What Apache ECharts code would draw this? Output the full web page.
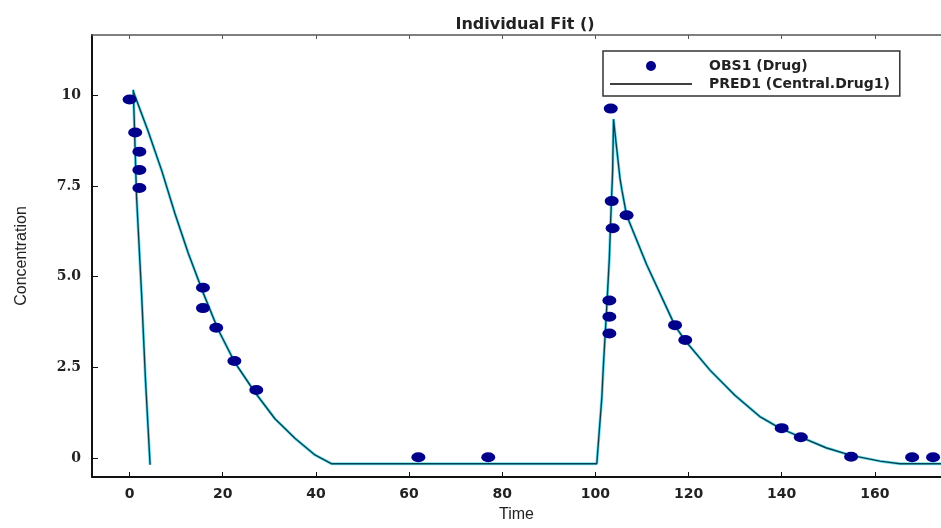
<!DOCTYPE html>
<html>
<head>
<meta charset="utf-8">
<script src="https://cdn.jsdelivr.net/npm/echarts@6/dist/echarts.min.js"></script>
<style>
html, body { margin: 0; padding: 0; background: #fff; }
#main { width: 941px; height: 528px; }
</style>
</head>
<body>
<div id="main"></div>
<script>
var myChart = echarts.init(document.getElementById('main'));

// observed points (OBS1)
var obsTime = [0, 1.2, 2.1, 2.1, 2.1, 15.75, 15.75, 18.6, 22.5, 27.2, 62, 77,
  103.3, 103.5, 103.7, 103.0, 103.0, 103.0, 106.7, 117.1, 119.3, 140.0, 144.1, 154.9, 168.0, 172.5];
var obsConc = [9.88, 8.97, 8.44, 7.94, 7.44, 4.69, 4.13, 3.59, 2.67, 1.87, 0.02, 0.02,
  9.63, 7.08, 6.33, 4.34, 3.89, 3.43, 6.69, 3.66, 3.25, 0.82, 0.57, 0.03, 0.02, 0.02];

// predicted curve (PRED1): steep drop after first dose
var dropTime = [0.8, 1.5, 2.6, 3.4, 4.4];
var dropConc = [10.15, 7.19, 4.45, 2.18, -0.19];

// predicted curve (PRED1): main trace
var predTime = [0.8, 1.16, 4.0, 6.9, 9.75, 12.6, 15.8, 19.0, 22.6, 26.9, 31.2, 35.5, 39.8, 43.3,
  100.3, 101.4, 101.7, 102.4, 103.0, 103.3, 103.7, 103.9, 104.2, 105.3, 105.7, 106.7, 111.0, 117.1,
  119.3, 124.6, 130.0, 135.3, 139.6, 144.1, 149.5, 154.9, 161.1, 165.4, 176];
var predConc = [10.1, 10.15, 9.0, 7.92, 6.73, 5.64, 4.55, 3.54, 2.63, 1.81, 1.08, 0.54, 0.08, -0.16,
  -0.16, 1.69, 2.5, 4.06, 5.51, 6.6, 7.89, 9.34, 8.97, 7.69, 7.38, 6.69, 5.33, 3.64,
  3.23, 2.42, 1.72, 1.14, 0.82, 0.57, 0.28, 0.07, -0.09, -0.16, -0.16];

var xTicks = [0, 20, 40, 60, 80, 100, 120, 140, 160];
var yTicks = [0, 2.5, 5, 7.5, 10];
var yTickLabels = ['0', '2.5', '5.0', '7.5', '10'];

function pairs(xs, ys) {
  var out = [];
  for (var i = 0; i < xs.length; i++) out.push([xs[i], ys[i]]);
  return out;
}
var obsData = pairs(obsTime, obsConc);
var predData = pairs(predTime, predConc);
var dropData = pairs(dropTime, dropConc);

var glow = { color: '#6fe3f2', width: 3 };
var core = { color: '#0a4050', width: 1.4 };

function predLine(name, data, style, z) {
  return {
    name: name,
    type: 'line',
    data: data,
    symbol: 'none',
    z: z,
    itemStyle: { color: style.color },
    lineStyle: style
  };
}

var option = {
  backgroundColor: '#fff',
  animation: false,
  title: {
    text: 'Individual Fit ()',
    left: 520,
    top: 12,
    textAlign: 'center',
    textStyle: { fontFamily: 'DejaVu Sans', fontSize: 16, fontWeight: 'bold', color: '#222' }
  },
  legend: {
    orient: 'vertical',
    left: 603,
    top: 51,
    padding: [8, 10, 5, 7],
    itemGap: 4,
    itemWidth: 82,
    itemHeight: 10,
    borderColor: '#333',
    borderWidth: 1.5,
    selectedMode: false,
    textStyle: { fontFamily: 'DejaVu Sans', fontSize: 14, fontWeight: 'bold', color: '#222', padding: [0, 0, 0, 12] },
    data: [
      { name: 'OBS1 (Drug)', icon: 'circle', itemStyle: { color: '#00008b', opacity: 1 } },
      { name: 'PRED1 (Central.Drug1)', icon: 'path://M0,0H82V1.5H0Z', itemStyle: { color: '#000' } }
    ]
  },
  grid: { left: 92, right: 0, top: 35, bottom: 47 },
  xAxis: [{
    type: 'value',
    min: -8.07,
    max: 174.2,
    name: 'Time',
    nameLocation: 'middle',
    nameGap: 30,
    nameTextStyle: { fontFamily: 'Liberation Sans', fontSize: 16, color: '#222' },
    axisLine: { onZero: false, lineStyle: { color: '#111', width: 2 } },
    axisTick: { inside: true, length: 5, customValues: xTicks, lineStyle: { color: '#111' } },
    axisLabel: { customValues: xTicks, margin: 10, fontFamily: 'DejaVu Sans', fontSize: 14, fontWeight: 'bold', color: '#222' },
    splitLine: { show: false }
  }, {
    type: 'value',
    position: 'top',
    min: -8.07,
    max: 174.2,
    axisLine: { onZero: false, lineStyle: { color: '#555', width: 1.5 } },
    axisTick: { inside: true, length: 4, customValues: xTicks, lineStyle: { color: '#555' } },
    axisLabel: { show: false },
    splitLine: { show: false }
  }],
  yAxis: {
    type: 'value',
    min: -0.527,
    max: 11.66,
    name: 'Concentration',
    nameLocation: 'middle',
    nameGap: 62,
    nameTextStyle: { fontFamily: 'Liberation Sans', fontSize: 16, color: '#222' },
    axisLine: { onZero: false, lineStyle: { color: '#111', width: 2 } },
    axisTick: { inside: true, length: 6, customValues: yTicks, lineStyle: { color: '#111' } },
    axisLabel: {
      customValues: yTicks,
      margin: 11,
      fontFamily: 'DejaVu Serif',
      fontSize: 14,
      fontWeight: 'bold',
      color: '#222',
      formatter: function (v) {
        var k = yTicks.indexOf(v);
        return k >= 0 ? yTickLabels[k] : '';
      }
    },
    splitLine: { show: false }
  },
  series: [
    predLine('glow-main', predData, glow, 1),
    predLine('glow-drop', dropData, glow, 1),
    predLine('PRED1 (Central.Drug1)', predData, core, 2),
    predLine('PRED1 (Central.Drug1)', dropData, core, 2),
    {
      name: 'OBS1 (Drug)',
      type: 'scatter',
      data: obsData,
      symbol: 'circle',
      symbolSize: [14, 10],
      z: 3,
      itemStyle: { color: '#00008b', opacity: 1 }
    }
  ]
};
myChart.setOption(option);
window.onresize = myChart.resize;
</script>
</body>
</html>
